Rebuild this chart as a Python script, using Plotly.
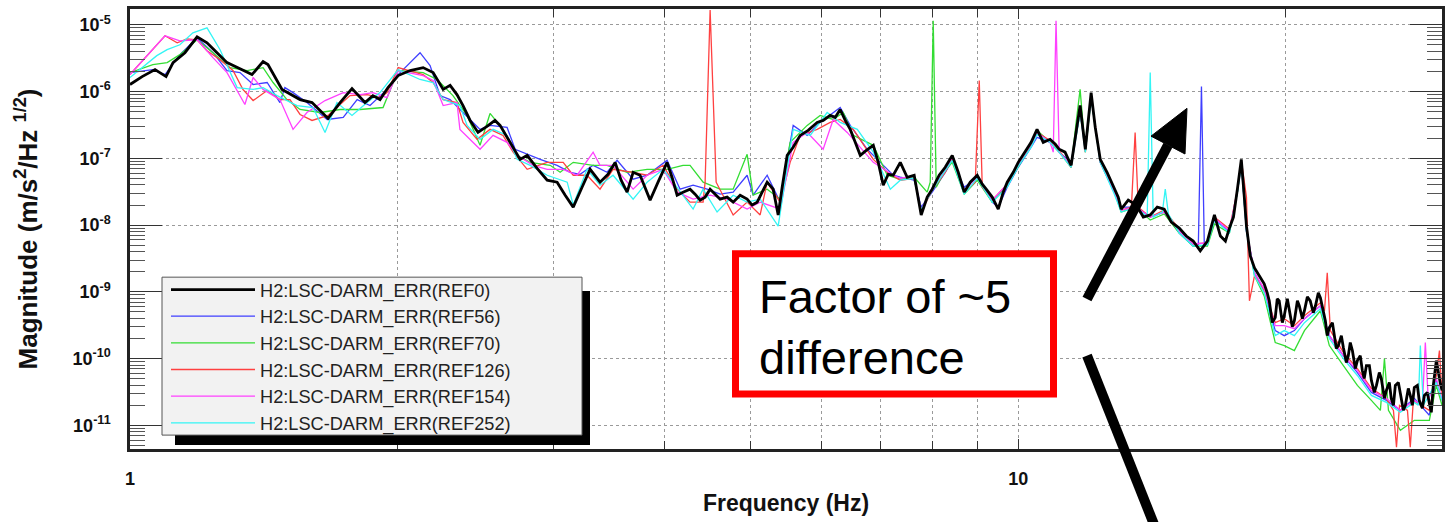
import plotly.graph_objects as go

# ---------------------------------------------------------------------------
# Spectra of H2:LSC-DARM_ERR for six reference traces (frequency in Hz,
# magnitude in m/s^2/Hz^1/2)
# ---------------------------------------------------------------------------
ref0_freq = [
    1.000, 1.032, 1.067, 1.098, 1.118, 1.153, 1.190, 1.221, 1.253, 1.286,
    1.330, 1.372, 1.412, 1.430, 1.483, 1.518, 1.554, 1.603, 1.637, 1.671,
    1.724, 1.778, 1.839, 1.877, 1.912, 1.952, 2.004, 2.067, 2.138, 2.194,
    2.252, 2.293, 2.334, 2.371, 2.415, 2.465, 2.523, 2.576, 2.610, 2.679,
    2.749, 2.800, 2.873, 2.949, 3.026, 3.090, 3.155, 3.228, 3.296, 3.382,
    3.453, 3.517, 3.572, 3.628, 3.685, 3.752, 3.801, 3.851, 3.931, 4.024,
    4.076, 4.130, 4.194, 4.271, 4.327, 4.384, 4.441, 4.499, 4.558, 4.617,
    4.702, 4.776, 4.863, 4.952, 5.017, 5.083, 5.149, 5.216, 5.298, 5.367,
    5.423, 5.494, 5.580, 5.682, 5.801, 5.938, 6.031, 6.142, 6.222, 6.303,
    6.386, 6.469, 6.554, 6.640, 6.744, 6.868, 6.957, 7.047, 7.140, 7.233,
    7.366, 7.499, 7.636, 7.716, 7.776, 7.898, 8.001, 8.147, 8.276, 8.428,
    8.560, 8.694, 8.830, 8.992, 9.110, 9.204, 9.348, 9.495, 9.619, 9.719,
    9.872, 10.00, 10.18, 10.34, 10.50, 10.67, 10.86, 11.01, 11.12, 11.29,
    11.47, 11.62, 11.74, 11.90, 11.99, 12.08, 12.21, 12.37, 12.59, 12.83,
    12.96, 13.06, 13.30, 13.58, 13.83, 14.08, 14.34, 14.60, 14.87, 15.18,
    15.46, 15.74, 16.03, 16.33, 16.50, 16.63, 16.89, 17.11, 17.29, 17.47,
    17.65, 17.83, 17.97, 18.07, 18.25, 18.45, 18.68,
    18.92, 19.07, 19.17, 19.32, 19.47, 19.57, 19.67, 19.83, 19.93, 20.09,
    20.19, 20.35, 20.46, 20.62, 20.72, 20.89, 21.00, 21.16, 21.32, 21.49,
    21.61, 21.77, 21.89, 22.05, 22.17, 22.28, 22.40, 22.58, 22.70, 22.81,
    22.93, 23.11, 23.23, 23.41, 23.53, 23.65, 23.78, 23.96, 24.09, 24.27,
    24.40, 24.52, 24.66, 24.85, 24.98, 25.17, 25.31, 25.50, 25.63, 25.84,
    25.97, 26.17, 26.30, 26.45, 26.58, 26.79, 26.93, 27.14, 27.28, 27.49,
    27.63, 27.78, 27.92, 28.14, 28.28, 28.51, 28.66, 28.88, 29.03, 29.18,
    29.33, 29.56, 29.87, 30.0,
]
ref0_mag = [
    1.28e-6, 1.68e-6, 2.14e-6, 1.68e-6, 2.72e-6, 3.83e-6, 6.63e-6, 5.40e-6, 3.83e-6, 2.72e-6,
    2.21e-6, 1.80e-6, 2.81e-6, 2.54e-6, 1.08e-6, 9.03e-7, 7.60e-7, 6.86e-7, 5.22e-7, 3.97e-7,
    6.86e-7, 1.11e-6, 6.86e-7, 8.72e-7, 7.60e-7, 1.15e-6, 1.74e-6, 2.07e-6, 2.29e-6, 1.93e-6,
    1.08e-6, 1.24e-6, 9.03e-7, 6.19e-7, 3.70e-7, 2.45e-7, 3.01e-7, 3.70e-7, 3.12e-7, 1.74e-7,
    9.66e-8, 1.11e-7, 7.10e-8, 4.71e-8, 4.40e-8, 2.81e-8, 1.86e-8, 3.70e-8, 6.86e-8, 4.40e-8,
    5.78e-8, 8.72e-8, 4.71e-8, 3.12e-8, 6.19e-8, 5.59e-8, 3.70e-8, 2.37e-8, 4.40e-8, 8.72e-8,
    5.22e-8, 2.81e-8, 3.12e-8, 3.46e-8, 2.91e-8, 2.37e-8, 2.63e-8, 3.46e-8, 2.91e-8, 2.45e-8,
    2.63e-8, 2.21e-8, 2.81e-8, 2.45e-8, 2.00e-8, 2.21e-8, 3.12e-8, 4.40e-8, 3.46e-8, 1.42e-8,
    3.70e-8, 1.11e-7, 1.47e-7, 2.21e-7, 2.63e-7, 3.46e-7, 3.70e-7, 4.40e-7, 4.11e-7, 5.40e-7,
    3.70e-7, 2.72e-7, 1.74e-7, 1.11e-7, 1.32e-7, 1.57e-7, 8.72e-8, 3.97e-8, 5.78e-8, 5.59e-8,
    8.72e-8, 5.22e-8, 5.59e-8, 2.63e-8, 1.42e-8, 2.63e-8, 3.46e-8, 5.59e-8, 7.35e-8, 1.11e-7,
    6.19e-8, 3.12e-8, 4.40e-8, 5.59e-8, 4.11e-8, 3.46e-8, 2.63e-8, 1.74e-8, 3.12e-8, 4.40e-8,
    6.19e-8, 8.72e-8, 1.24e-7, 1.74e-7, 2.72e-7, 1.74e-7, 1.93e-7, 1.63e-7, 1.37e-7, 1.24e-7,
    7.87e-8, 2.45e-7, 6.19e-7, 1.37e-7, 4.11e-7, 9.66e-7, 2.91e-7, 9.66e-8, 6.19e-8, 3.46e-8,
    2.63e-8, 1.74e-8, 2.37e-8, 2.00e-8, 1.32e-8, 1.42e-8, 1.86e-8, 1.74e-8, 1.11e-8, 9.03e-9,
    6.86e-9, 5.78e-9, 4.11e-9, 5.78e-9, 9.66e-9, 1.42e-8, 6.86e-9, 5.78e-9, 9.03e-9, 1.32e-8,
    3.46e-8, 9.66e-8, 2.63e-8, 9.66e-9, 3.46e-9, 2.29e-9, 1.74e-9,
    1.32e-9, 9.66e-10, 7.35e-10, 3.46e-10, 4.11e-10, 7.87e-10, 7.35e-10, 3.46e-10, 4.40e-10, 7.87e-10,
    5.22e-10, 3.01e-10, 3.70e-10, 7.35e-10, 6.19e-10, 3.97e-10, 5.22e-10, 8.42e-10, 7.35e-10, 4.87e-10,
    6.19e-10, 9.66e-10, 8.14e-10, 5.22e-10, 3.70e-10, 2.21e-10, 2.91e-10, 3.46e-10, 2.21e-10, 1.42e-10,
    1.57e-10, 2.21e-10, 1.47e-10, 8.72e-11, 1.11e-10, 1.74e-10, 1.32e-10, 7.10e-11, 9.34e-11, 1.11e-10,
    6.63e-11, 5.04e-11, 7.87e-11, 7.87e-11, 4.71e-11, 3.12e-11, 3.97e-11, 6.19e-11, 5.04e-11, 2.54e-11,
    3.34e-11, 4.40e-11, 2.54e-11, 2.00e-11, 3.97e-11, 4.40e-11, 3.01e-11, 1.68e-11, 2.00e-11, 3.58e-11,
    2.81e-11, 2.00e-11, 3.70e-11, 3.97e-11, 2.37e-11, 1.80e-11, 2.81e-11, 3.12e-11, 2.14e-11, 1.57e-11,
    3.97e-11, 9.34e-11, 4.25e-11, 3.34e-11,
]

ref56_freq = [
    1.000, 1.061, 1.095, 1.138, 1.190, 1.240, 1.286, 1.330, 1.376, 1.427,
    1.475, 1.494, 1.526, 1.582, 1.667, 1.738, 1.802, 1.863, 1.947, 2.004,
    2.121, 2.177, 2.234, 2.293, 2.371, 2.478, 2.543, 2.658, 2.714, 2.822,
    2.896, 3.026, 3.130, 3.212, 3.322, 3.444, 3.535, 3.685, 3.821, 4.024,
    4.162, 4.305, 4.464, 4.617, 4.776, 4.952, 5.030, 5.216, 5.395, 5.580,
    5.786, 5.984, 6.303, 6.469, 6.761, 6.994, 7.233, 7.366, 7.636, 7.776,
    8.001, 8.276, 8.428, 8.694, 8.992, 9.348, 9.495, 9.719, 10.00, 10.34,
    10.50, 10.86, 11.12, 11.47, 11.74, 11.90, 12.08, 12.37, 12.83, 13.06,
    13.58, 14.08, 14.60, 15.18, 15.74, 15.95, 16.08, 16.20, 16.33, 16.63,
    17.29, 17.65, 17.83, 18.07, 18.45, 18.92, 19.47, 19.93, 20.46, 21.00,
    21.89, 22.40, 23.23, 24.09, 24.98, 25.97, 26.93, 27.92, 29.03, 29.56,
    30.0,
]
ref56_mag = [
    1.93e-6, 2.14e-6, 1.80e-6, 3.58e-6, 6.41e-6, 3.83e-6, 2.07e-6, 1.93e-6, 1.28e-6, 1.37e-6,
    6.86e-7, 1.15e-6, 9.66e-7, 6.86e-7, 3.83e-7, 4.11e-7, 7.60e-7, 6.19e-7, 1.08e-6, 1.80e-6,
    3.83e-6, 2.45e-6, 8.72e-7, 7.60e-7, 4.87e-7, 2.72e-7, 3.12e-7, 2.91e-7, 1.37e-7, 1.11e-7,
    9.66e-8, 7.87e-8, 6.19e-8, 5.78e-8, 7.87e-8, 6.19e-8, 9.34e-8, 4.87e-8, 5.59e-8, 9.34e-8,
    3.46e-8, 3.97e-8, 3.46e-8, 2.91e-8, 3.12e-8, 5.59e-8, 2.81e-8, 5.59e-8, 2.21e-8, 3.12e-7,
    2.21e-7, 3.46e-7, 5.78e-7, 3.12e-7, 1.37e-7, 8.72e-8, 5.59e-8, 5.22e-8, 4.71e-8, 1.86e-8,
    3.12e-8, 6.19e-8, 9.34e-8, 3.70e-8, 5.22e-8, 2.21e-8, 1.86e-8, 3.70e-8, 7.35e-8, 1.47e-7,
    2.07e-7, 1.74e-7, 1.24e-7, 8.72e-8, 4.87e-7, 1.47e-7, 8.14e-7, 8.72e-8, 3.12e-8, 1.86e-8,
    1.86e-8, 1.32e-8, 1.57e-8, 7.60e-9, 4.87e-9, 4.87e-9, 1.19e-6, 4.87e-9, 5.40e-9, 1.19e-8,
    8.14e-9, 3.12e-8, 8.14e-8, 8.14e-9, 1.93e-9, 1.04e-9, 2.63e-10, 2.21e-10, 2.63e-10, 3.97e-10,
    6.19e-10, 2.21e-10, 1.11e-10, 6.19e-11, 3.12e-11, 2.37e-11, 1.68e-11, 2.54e-11, 1.42e-11, 4.71e-11,
    2.37e-11,
]

ref70_freq = [
    1.000, 1.061, 1.101, 1.138, 1.190, 1.240, 1.296, 1.355, 1.412, 1.449,
    1.502, 1.554, 1.637, 1.724, 1.816, 1.927, 2.004, 2.138, 2.217, 2.310,
    2.396, 2.478, 2.543, 2.630, 2.728, 2.822, 2.972, 3.050, 3.155, 3.322,
    3.444, 3.628, 3.821, 4.024, 4.194, 4.271, 4.418, 4.617, 4.776, 4.952,
    5.030, 5.216, 5.395, 5.536, 5.786, 5.984, 6.190, 6.353, 6.521, 6.868,
    7.122, 7.366, 7.636, 7.898, 7.960, 8.022, 8.085, 8.276, 8.428, 8.694,
    8.992, 9.348, 9.719, 10.00, 10.34, 10.50, 10.86, 11.12, 11.47, 11.62,
    11.74, 11.90, 12.08, 12.37, 12.83, 13.06, 13.58, 14.08, 14.60, 15.18,
    15.74, 16.33, 16.63, 17.29, 17.65, 17.83, 18.07, 18.45, 18.92, 19.47,
    19.93, 20.46, 21.00, 21.89, 22.40, 23.23, 24.09, 24.98, 25.57, 25.84,
    26.11, 26.93, 27.92, 29.03, 29.56, 30.0,
]
ref70_mag = [
    1.93e-6, 2.54e-6, 2.72e-6, 3.58e-6, 5.98e-6, 3.83e-6, 2.29e-6, 2.07e-6, 2.29e-6, 1.37e-6,
    7.60e-7, 5.40e-7, 4.87e-7, 5.40e-7, 5.40e-7, 5.78e-7, 2.07e-6, 1.93e-6, 1.52e-6, 8.72e-7,
    4.40e-7, 1.57e-7, 4.71e-7, 2.72e-7, 1.11e-7, 8.72e-8, 7.87e-8, 6.19e-8, 8.72e-8, 7.87e-8,
    7.87e-8, 6.19e-8, 6.86e-8, 6.86e-8, 7.87e-8, 7.87e-8, 4.40e-8, 3.46e-8, 3.46e-8, 1.15e-7,
    2.81e-8, 3.46e-8, 2.45e-8, 1.74e-7, 3.12e-7, 4.40e-7, 3.83e-7, 4.87e-7, 2.21e-7, 1.57e-7,
    5.59e-8, 4.87e-8, 5.22e-8, 3.12e-8, 4.40e-8, 1.15e-5, 3.70e-8, 6.63e-8, 8.72e-8, 2.91e-8,
    4.71e-8, 2.21e-8, 3.97e-8, 7.35e-8, 1.57e-7, 2.63e-7, 1.74e-7, 1.24e-7, 7.35e-8, 3.46e-7,
    1.08e-6, 1.24e-7, 8.14e-7, 8.72e-8, 3.12e-8, 1.57e-8, 1.86e-8, 1.19e-8, 1.47e-8, 7.60e-9,
    4.87e-9, 4.87e-9, 1.04e-8, 7.60e-9, 3.12e-8, 8.72e-8, 8.72e-9, 1.74e-9, 8.72e-10, 1.74e-10,
    1.57e-10, 1.32e-10, 2.63e-10, 5.22e-10, 1.57e-10, 7.87e-11, 3.97e-11, 2.37e-11, 1.68e-11, 1.00e-10,
    1.68e-11, 8.42e-12, 1.19e-11, 1.19e-11, 3.97e-11, 2.00e-11,
]

ref126_freq = [
    1.000, 1.061, 1.095, 1.130, 1.159, 1.190, 1.221, 1.263, 1.306, 1.340,
    1.376, 1.427, 1.475, 1.514, 1.554, 1.603, 1.671, 1.769, 1.849, 1.912,
    1.947, 2.004, 2.138, 2.194, 2.252, 2.334, 2.371, 2.459, 2.543, 2.630,
    2.700, 2.800, 2.949, 3.074, 3.155, 3.270, 3.382, 3.498, 3.685, 3.821,
    3.983, 4.130, 4.271, 4.418, 4.441, 4.499, 4.570, 4.776, 4.952, 5.122,
    5.216, 5.395, 5.536, 5.682, 5.938, 6.142, 6.303, 6.521, 6.868, 7.122,
    7.366, 7.636, 7.776, 8.001, 8.276, 8.428, 8.694, 8.946, 9.039, 9.110,
    9.348, 9.719, 10.00, 10.34, 10.50, 10.86, 11.12, 11.47, 11.74, 11.90,
    12.08, 12.37, 12.83, 13.06, 13.41, 13.54, 13.65, 14.08, 14.60, 15.18,
    15.74, 16.33, 16.63, 17.29, 17.65, 17.83, 18.07, 18.21, 18.45, 18.92,
    19.47, 19.93, 20.46, 21.00, 21.89, 22.12, 22.28, 22.46, 23.23, 24.09,
    24.98, 25.97, 26.45, 26.66, 26.87, 27.43, 27.63, 27.85, 29.03, 29.56,
    29.80, 30.0,
]
ref126_mag = [
    1.80e-6, 4.25e-6, 6.86e-6, 5.40e-6, 6.19e-6, 5.98e-6, 4.11e-6, 3.01e-6, 2.07e-6, 1.08e-6,
    7.35e-7, 1.04e-6, 7.60e-7, 7.60e-7, 4.55e-7, 3.70e-7, 4.40e-7, 8.72e-7, 9.03e-7, 8.14e-7,
    9.66e-7, 2.29e-6, 1.80e-6, 1.37e-6, 7.60e-7, 6.86e-7, 3.46e-7, 1.93e-7, 2.72e-7, 2.21e-7,
    1.24e-7, 6.86e-8, 8.72e-8, 8.72e-8, 5.59e-8, 5.59e-8, 3.46e-8, 6.86e-8, 6.19e-8, 5.59e-8,
    7.87e-8, 3.46e-8, 2.21e-8, 2.21e-8, 4.40e-8, 1.67e-5, 4.40e-8, 1.42e-8, 2.21e-8, 1.42e-8,
    4.40e-8, 2.21e-8, 8.72e-8, 2.21e-7, 2.72e-7, 3.46e-7, 3.83e-7, 2.72e-7, 9.66e-8, 6.19e-8,
    4.71e-8, 5.04e-8, 1.57e-8, 3.34e-8, 6.19e-8, 1.00e-7, 3.12e-8, 4.40e-8, 1.47e-6, 3.70e-8,
    2.37e-8, 4.11e-8, 7.87e-8, 1.63e-7, 2.45e-7, 1.86e-7, 1.32e-7, 7.35e-8, 5.22e-7, 1.24e-7,
    8.72e-7, 9.34e-8, 3.34e-8, 1.68e-8, 1.86e-8, 2.45e-7, 1.86e-8, 1.32e-8, 1.68e-8, 8.72e-9,
    5.22e-9, 5.40e-9, 1.32e-8, 8.72e-9, 3.34e-8, 9.34e-8, 2.63e-8, 7.35e-10, 1.74e-9, 1.04e-9,
    3.46e-10, 3.97e-10, 3.12e-10, 4.40e-10, 6.86e-10, 5.22e-10, 1.93e-9, 2.63e-10, 1.24e-10, 7.10e-11,
    3.58e-11, 2.54e-11, 1.68e-11, 4.71e-12, 2.00e-11, 1.68e-11, 4.71e-12, 2.37e-11, 1.68e-11, 5.59e-11,
    1.32e-10, 2.81e-11,
]

ref154_freq = [
    1.000, 1.095, 1.138, 1.190, 1.240, 1.286, 1.347, 1.376, 1.412, 1.475,
    1.526, 1.582, 1.658, 1.738, 1.816, 1.877, 1.947, 2.004, 2.138, 2.194,
    2.252, 2.334, 2.352, 2.478, 2.563, 2.658, 2.728, 2.844, 2.949, 3.074,
    3.187, 3.322, 3.382, 3.498, 3.685, 3.821, 3.983, 4.130, 4.305, 4.499,
    4.702, 4.952, 5.122, 5.395, 5.580, 5.786, 6.031, 6.190, 6.419, 6.868,
    7.233, 7.366, 7.636, 7.776, 8.001, 8.276, 8.428, 8.694, 8.992, 9.348,
    9.719, 10.00, 10.34, 10.50, 10.86, 10.95, 11.03, 11.12, 11.47, 11.74,
    11.90, 12.08, 12.37, 12.83, 13.06, 13.58, 14.08, 14.60, 15.18, 15.74,
    16.33, 16.63, 17.29, 17.65, 17.83, 18.07, 18.45, 18.92, 19.47, 19.93,
    20.46, 21.00, 21.89, 22.40, 23.23, 24.09, 24.98, 25.97, 26.93, 27.92,
    28.51, 28.73, 28.95, 29.56, 30.0,
]
ref154_mag = [
    1.80e-6, 6.86e-6, 5.78e-6, 5.98e-6, 3.23e-6, 1.93e-6, 6.41e-7, 1.63e-6, 1.08e-6, 7.60e-7,
    2.72e-7, 4.87e-7, 7.35e-7, 9.66e-7, 9.03e-7, 9.66e-7, 8.14e-7, 2.07e-6, 1.74e-6, 1.47e-6,
    6.19e-7, 6.86e-7, 2.72e-7, 1.37e-7, 2.21e-7, 1.74e-7, 1.11e-7, 7.87e-8, 6.86e-8, 6.86e-8,
    5.59e-8, 1.24e-7, 7.87e-8, 7.87e-8, 3.46e-8, 5.59e-8, 6.86e-8, 3.12e-8, 2.45e-8, 2.81e-8,
    2.45e-8, 1.74e-8, 2.21e-8, 1.74e-8, 1.74e-7, 2.45e-7, 1.37e-7, 3.83e-7, 2.45e-7, 8.72e-8,
    5.59e-8, 5.04e-8, 5.40e-8, 1.68e-8, 3.58e-8, 6.63e-8, 1.04e-7, 3.34e-8, 5.22e-8, 2.37e-8,
    4.11e-8, 8.14e-8, 1.63e-7, 2.45e-7, 1.74e-7, 1.24e-7, 1.15e-5, 1.24e-7, 7.87e-8, 5.22e-7,
    1.32e-7, 8.72e-7, 8.72e-8, 3.12e-8, 1.68e-8, 1.86e-8, 1.32e-8, 1.57e-8, 8.14e-9, 5.22e-9,
    5.40e-9, 1.28e-8, 8.14e-9, 3.34e-8, 9.34e-8, 8.72e-9, 1.93e-9, 1.11e-9, 3.12e-10, 3.12e-10,
    2.81e-10, 3.97e-10, 6.19e-10, 2.21e-10, 1.11e-10, 6.63e-11, 3.34e-11, 2.54e-11, 1.68e-11, 2.37e-11,
    2.00e-11, 1.74e-10, 2.37e-11, 5.04e-11, 2.37e-11,
]

ref252_freq = [
    1.000, 1.072, 1.101, 1.138, 1.177, 1.221, 1.263, 1.320, 1.376, 1.412,
    1.464, 1.542, 1.607, 1.658, 1.710, 1.778, 1.849, 1.912, 2.004, 2.121,
    2.194, 2.252, 2.352, 2.396, 2.478, 2.563, 2.658, 2.728, 2.822, 2.949,
    3.106, 3.155, 3.270, 3.382, 3.498, 3.685, 3.821, 3.983, 4.087, 4.305,
    4.418, 4.581, 4.776, 4.952, 5.122, 5.367, 5.580, 5.831, 6.094, 6.303,
    6.589, 6.868, 7.178, 7.366, 7.636, 7.776, 8.001, 8.276, 8.428, 8.694,
    8.992, 9.348, 9.719, 10.00, 10.34, 10.50, 10.86, 11.12, 11.47, 11.74,
    11.90, 12.08, 12.37, 12.83, 13.06, 13.58, 13.97, 14.08, 14.19, 14.53,
    14.64, 14.76, 15.18, 15.74, 16.33, 16.63, 17.29, 17.65, 17.83, 18.07,
    18.45, 18.92, 19.47, 19.93, 20.46, 21.00, 21.89, 22.40, 23.23, 24.09,
    24.98, 25.97, 26.93, 27.92, 28.21, 28.36, 28.58, 29.56, 30.0,
]
ref252_mag = [
    1.63e-6, 3.46e-6, 4.25e-6, 5.04e-6, 7.60e-6, 9.03e-6, 4.25e-6, 1.15e-6, 1.08e-6, 1.15e-6,
    8.72e-7, 6.19e-7, 5.78e-7, 2.45e-7, 6.86e-7, 4.40e-7, 6.86e-7, 9.66e-7, 2.14e-6, 1.52e-6,
    1.37e-6, 7.60e-7, 6.19e-7, 3.12e-7, 1.93e-7, 2.72e-7, 2.21e-7, 9.66e-8, 7.87e-8, 5.59e-8,
    4.40e-8, 2.00e-8, 6.86e-8, 3.97e-8, 5.59e-8, 2.45e-8, 4.40e-8, 6.86e-8, 4.40e-8, 1.74e-8,
    3.46e-8, 1.57e-8, 2.81e-8, 2.21e-8, 2.45e-8, 9.66e-9, 2.72e-7, 2.21e-7, 4.87e-7, 3.46e-7,
    2.72e-7, 1.24e-7, 3.46e-8, 4.71e-8, 5.04e-8, 1.68e-8, 3.34e-8, 6.63e-8, 9.34e-8, 2.91e-8,
    5.04e-8, 2.21e-8, 3.70e-8, 7.60e-8, 1.47e-7, 2.29e-7, 1.74e-7, 1.24e-7, 7.35e-8, 4.87e-7,
    1.24e-7, 8.14e-7, 8.72e-8, 2.91e-8, 1.57e-8, 1.86e-8, 1.32e-8, 1.93e-6, 1.32e-8, 1.57e-8,
    3.46e-8, 1.47e-8, 7.60e-9, 4.87e-9, 5.04e-9, 1.19e-8, 7.60e-9, 3.12e-8, 8.72e-8, 8.14e-9,
    1.74e-9, 9.66e-10, 2.21e-10, 2.63e-10, 2.21e-10, 3.46e-10, 5.59e-10, 2.00e-10, 1.00e-10, 5.59e-11,
    2.81e-11, 2.21e-11, 1.57e-11, 2.21e-11, 2.00e-11, 1.57e-10, 2.00e-11, 4.40e-11, 2.37e-11,
]

# axis tick labelling
x_major = [1, 10]
x_major_text = ["1", "10"]
x_minor = [2, 3, 4, 5, 6, 7, 8, 9, 20]
y_major_exp = [-11, -10, -9, -8, -7, -6, -5]

# ---------------------------------------------------------------------------
# Page geometry (pixels) and helpers for overlay shapes
# ---------------------------------------------------------------------------
FIG_W, FIG_H = 1456, 522
PLOT_L, PLOT_R, PLOT_T, PLOT_B = 130, 1442, 6, 449


def px(x):
    return (x - PLOT_L) / (PLOT_R - PLOT_L)


def py(y):
    return (PLOT_B - y) / (PLOT_B - PLOT_T)


FONT = "Liberation Sans, Arial, Helvetica, sans-serif"

fig = go.Figure()

traces = [
    # name, freq, mag, colour, width, legend rank
    ("H2:LSC-DARM_ERR(REF56)", ref56_freq, ref56_mag, "#3f3fff", 1.3, 2),
    ("H2:LSC-DARM_ERR(REF70)", ref70_freq, ref70_mag, "#33dd33", 1.3, 3),
    ("H2:LSC-DARM_ERR(REF126)", ref126_freq, ref126_mag, "#ff4040", 1.3, 4),
    ("H2:LSC-DARM_ERR(REF154)", ref154_freq, ref154_mag, "#ff40ff", 1.3, 5),
    ("H2:LSC-DARM_ERR(REF252)", ref252_freq, ref252_mag, "#33f5f5", 1.3, 6),
    ("H2:LSC-DARM_ERR(REF0)", ref0_freq, ref0_mag, "#000000", 2.8, 1),
]
for name, f, m, col, w, rank in traces:
    fig.add_trace(go.Scatter(
        x=f, y=m, mode="lines", name=name, legendrank=rank,
        line=dict(color=col, width=w),
    ))

grid = dict(showgrid=True, gridcolor="#9a9a9a", griddash="dot", gridwidth=1)
y_major = [10.0 ** e for e in y_major_exp]
y_major_text = ["10<sup>%d</sup>" % e for e in y_major_exp]
y_minor = [k * 10.0 ** e for e in range(-12, -4) for k in range(2, 10)]
tick_font = dict(family=FONT, size=18, color="#111", weight="bold")

fig.update_xaxes(
    type="log", range=[0, 1.4771],
    tickmode="array", tickvals=x_major, ticktext=x_major_text,
    showline=True, linecolor="#222", linewidth=2.5, mirror="allticks",
    ticks="inside", ticklen=10, tickcolor="#333", tickwidth=1.2,
    tickfont=tick_font, ticklabelstandoff=12,
    minor=dict(tickmode="array", tickvals=x_minor, ticks="inside", ticklen=8,
               tickcolor="#333", **grid),
    title=dict(text="Frequency (Hz)", standoff=7,
               font=dict(family=FONT, size=23, color="#111", weight="bold")),
    **grid,
)
fig.update_yaxes(
    type="log", range=[-11.354, -4.762],
    tickmode="array", tickvals=y_major, ticktext=y_major_text,
    showline=True, linecolor="#222", linewidth=2.5, mirror="allticks",
    ticks="inside", ticklen=32, tickcolor="#333", tickwidth=1.2,
    tickfont=tick_font, ticklabelstandoff=13,
    minor=dict(tickmode="array", tickvals=y_minor, ticks="inside", ticklen=15,
               tickcolor="#555", showgrid=False),
    title=dict(text="Magnitude (m/s<sup>2</sup>/Hz <sup>1/2</sup>)", standoff=28,
               font=dict(family=FONT, size=26, color="#111", weight="bold")),
    **grid,
)

# legend frame with drop shadow, callout box and arrows
shapes = [
    dict(type="rect", xref="paper", yref="paper", layer="above",
         x0=px(175), x1=px(590), y0=py(445), y1=py(290),
         fillcolor="#000", line=dict(width=0)),
    dict(type="rect", xref="paper", yref="paper", layer="above",
         x0=px(162), x1=px(582), y0=py(435), y1=py(276),
         fillcolor="#f2f2f2", line=dict(color="#555", width=1)),
    dict(type="rect", xref="paper", yref="paper", layer="above",
         x0=px(735.5), x1=px(1053.5), y0=py(393.5), y1=py(252.5),
         fillcolor="#fff", line=dict(color="#ff0000", width=7)),
    dict(type="line", xref="paper", yref="paper", layer="above",
         x0=px(1087), y0=py(298), x1=px(1168), y1=py(143),
         line=dict(color="#000", width=10)),
    dict(type="path", xref="paper", yref="paper", layer="above",
         path="M {} {} L {} {} L {} {} Z".format(px(1187), py(106), px(1151), py(134),
                                                 px(1185), py(152)),
         fillcolor="#000", line=dict(color="#000", width=1)),
    dict(type="line", xref="paper", yref="paper", layer="above",
         x0=px(1087), y0=py(355), x1=px(1156), y1=py(530),
         line=dict(color="#000", width=10)),
]

fig.update_layout(
    width=FIG_W, height=FIG_H,
    margin=dict(l=PLOT_L, r=FIG_W - PLOT_R, t=PLOT_T, b=FIG_H - PLOT_B),
    paper_bgcolor="#fff", plot_bgcolor="#fff",
    font=dict(family=FONT, color="#111"),
    showlegend=True,
    legend=dict(
        x=px(166), y=py(270), xanchor="left", yanchor="top",
        bgcolor="rgba(0,0,0,0)", borderwidth=0,
        font=dict(family=FONT, size=18.2, color="#222"),
        itemwidth=84, tracegroupgap=0,
    ),
    shapes=shapes,
    annotations=[dict(
        xref="paper", yref="paper", x=px(757), y=py(326),
        xanchor="left", yanchor="middle", align="left", showarrow=False,
        text="Factor of ~5<br>difference",
        font=dict(family=FONT, size=47, color="#000"),
    )],
)

fig.write_html("out.html")
